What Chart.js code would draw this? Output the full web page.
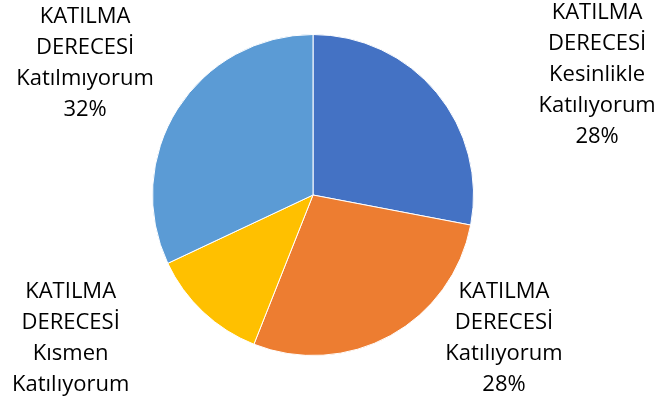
<!DOCTYPE html>
<html>
<head>
<meta charset="utf-8">
<script src="https://cdn.jsdelivr.net/npm/chart.js@4/dist/chart.umd.min.js"></script>
<style>
  html, body { margin: 0; padding: 0; background: #fff; }
  #wrap { width: 662px; height: 406px; }
</style>
</head>
<body>
<div id="wrap"><canvas id="grafico"></canvas></div>
<script>
// dados
const categorias = ['Kesinlikle Katılıyorum', 'Katılıyorum', 'Kısmen Katılıyorum', 'Katılmıyorum'];
const valores = [28, 28, 12, 32];
const cores = ['#4472C4', '#ED7D31', '#FFC000', '#5B9BD5'];
const prefixo = ['KATILMA', 'DERECESİ'];

// posição dos rótulos (em raios, relativo ao centro) - estilo Excel
const posRotulo = [
    { x: 1.77, y: -1.135 },
    { x: 1.19, y: 0.60 },
    { x: -1.51, y: 0.605 },
    { x: -1.42, y: -1.11 }
];

const rotulos = {
    id: 'rotulos',
    afterDatasetsDraw(chart) {
        const c = chart.ctx;
        const arco = chart.getDatasetMeta(0).data[0];
        const cx = arco.x, cy = arco.y, r = arco.outerRadius;
        const total = valores.reduce((a, b) => a + b, 0);
        c.save();
        c.font = '22px "Open Sans"';
        c.fillStyle = '#000';
        c.textAlign = 'center';
        c.textBaseline = 'middle';
        categorias.forEach((cat, i) => {
            const linhas = prefixo.concat(cat.split(' '));
            linhas.push(Math.round(valores[i] / total * 100) + '%');
            const x = cx + posRotulo[i].x * r;
            let y = cy + posRotulo[i].y * r;
            linhas.forEach(l => {
                c.fillText(l, x, y);
                y += 31;
            });
        });
        c.restore();
    }
};

new Chart(document.getElementById('grafico'), {
    type: 'pie',
    data: {
        labels: categorias,
        datasets: [{
            data: valores,
            backgroundColor: cores,
            borderColor: '#fff',
            borderWidth: 1
        }]
    },
    options: {
        responsive: true,
        maintainAspectRatio: false,
        animation: false,
        layout: { padding: { top: 34, bottom: 50, left: 0, right: 36 } },
        plugins: {
            legend: { display: false },
            tooltip: { enabled: false }
        }
    },
    plugins: [rotulos]
});
</script>
</body>
</html>
